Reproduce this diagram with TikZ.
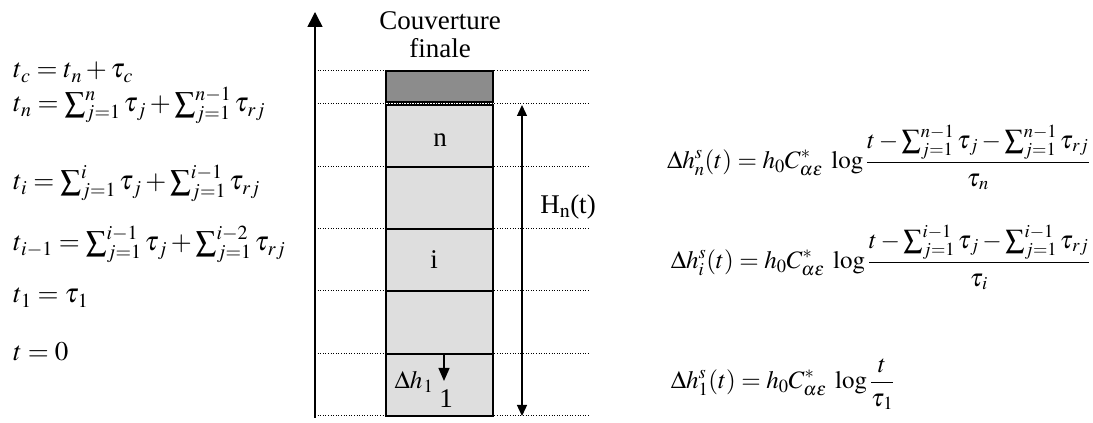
\documentclass[tikz,border=0pt]{standalone}
\usepackage{mathptmx}
\usepackage{fontspec}
\setmainfont{Liberation Serif}
\usepackage{graphicx}
\usetikzlibrary{arrows.meta}
\newcommand\Sg{\mathop{\vcenter{\hbox{\scalebox{1.08}{$\sum$}}}}\nolimits}
\newcommand\ks[1]{_{\kern1.2pt #1}}
\begin{document}
\begin{tikzpicture}[x=1pt,y=1pt,
  every node/.style={font=\fontsize{27}{31}\selectfont, inner sep=0pt},
  rfont/.style={font=\fontsize{25}{29}\selectfont},
  guide/.style={line width=1pt, dash pattern=on 1pt off 1.6pt},
  lay/.style={draw, line width=1.4pt, fill=black!13, minimum width=107pt, minimum height=62pt},
  cover/.style={draw, line width=1.4pt, fill=black!45, minimum width=107pt, minimum height=31pt},
  axis/.style={line width=1.5pt, -{Triangle[length=15pt,width=15pt]}},
  dim/.style={line width=1.3pt, {Triangle[length=11pt,width=10pt]}-{Triangle[length=11pt,width=10pt]}},
  eq/.style={anchor=base west},
  req/.style={anchor=base east, rfont}]
\useasboundingbox (0,0) rectangle (1093,423);
% guide lines
\foreach \y/\n in {352/a,319/b,256/c,194/d,132/e,69/f,7/g}{
  \coordinate (gl\n) at (315,\y);
  \coordinate (gr\n) at (589,\y);
  \draw[guide] (gl\n) -- (gr\n);
}
% layers
\node[cover] (cv) at (439.5,336.5) {};
\node[lay] (L5) at (439.5,287) {};
\node[lay] (L4) at (439.5,225) {};
\node[lay] (L3) at (439.5,163) {};
\node[lay] (L2) at (439.5,100.5) {};
\node[lay] (L1) at (439.5,38) {};
\node (tn) at (440,283) {n};
\node (ti) at (434,163) {i};
\node (t1) at (446,24) {1};
\node[font=\fontsize{25}{29}\selectfont] (dh) at (414,41) {$\Delta h\ks{1}$};
\coordinate (dha) at (444,69);
\coordinate (dhb) at (444,42);
\draw[line width=1.3pt,-{Triangle[length=13pt,width=11pt]}] (dha) -- (dhb);
\node[align=center] (cf) at (440,388) {Couverture\\[-3pt]finale};
% axis
\coordinate (ax0) at (315,5);
\coordinate (ax1) at (315,411);
\draw[axis] (ax0) -- (ax1);
% height arrow
\coordinate (h0) at (522,318);
\coordinate (h1) at (522,7);
\draw[dim] (h0) -- (h1);
\node (H) at (568,216) {H$_{\mathrm{n}}$(t)};
% left equations
\node[eq] (e1) at (13,345) {$t\ks{c} = t\ks{n} + \tau\ks{c}$};
\node[eq] (e2) at (13,311) {$t\ks{n} = \Sg_{j=1}^{n}\tau\ks{j} + \Sg_{j=1}^{n-1}\tau\ks{rj}$};
\node[eq] (e3) at (13,233) {$t\ks{i} = \Sg_{j=1}^{i}\tau\ks{j} + \Sg_{j=1}^{i-1}\tau\ks{rj}$};
\node[eq] (e4) at (13,172) {$t\ks{i-1} = \Sg_{j=1}^{i-1}\tau\ks{j} + \Sg_{j=1}^{i-2}\tau\ks{rj}$};
\node[eq] (e5) at (13,120) {$t\ks{1} = \tau\ks{1}$};
\node[eq] (e6) at (13,62) {$t = 0$};
% right equations
\node[req] (r1) at (1090,254) {$\displaystyle \Delta h_n^s(t) = h_0 C_{\alpha\varepsilon}^{*}\;\log\frac{t-\Sg_{j=1}^{n-1}\tau\ks{j}-\Sg_{j=1}^{n-1}\tau\ks{rj}}{\tau\ks{n}}$};
\node[req] (r2) at (1090,154) {$\displaystyle \Delta h_i^s(t) = h_0 C_{\alpha\varepsilon}^{*}\;\log\frac{t-\Sg_{j=1}^{i-1}\tau\ks{j}-\Sg_{j=1}^{i-1}\tau\ks{rj}}{\tau\ks{i}}$};
\node[eq,rfont] (r3) at (r2.base west) [yshift=-120pt] {$\displaystyle \Delta h_1^s(t) = h_0 C_{\alpha\varepsilon}^{*}\;\log\frac{t}{\tau\ks{1}}$};
\end{tikzpicture}
\end{document}
